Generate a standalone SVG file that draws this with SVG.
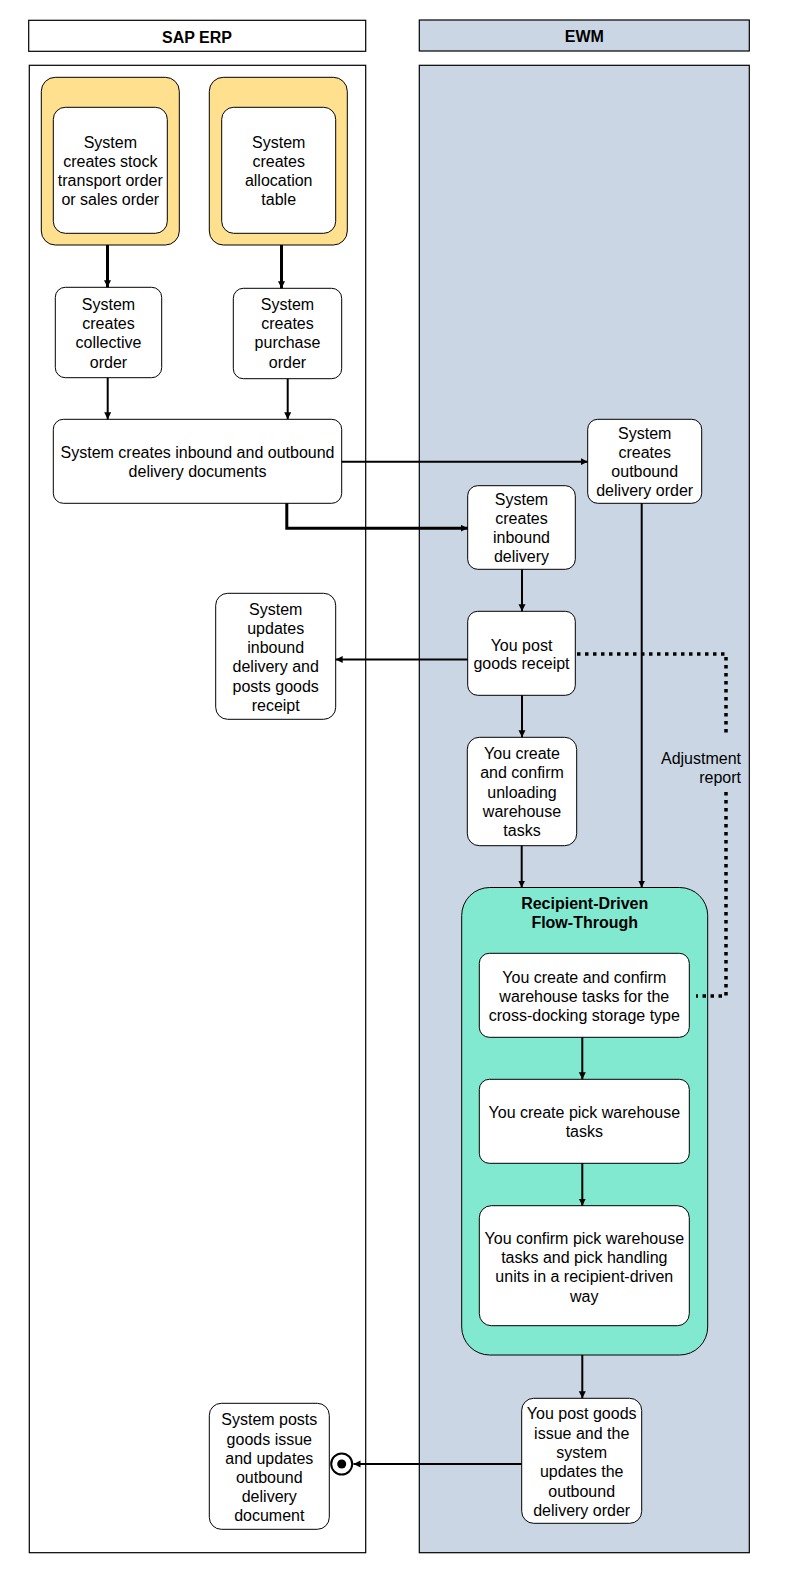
<svg xmlns="http://www.w3.org/2000/svg" width="792" height="1584" viewBox="0 0 792 1584">
<style>
text{font-family:"Liberation Sans",Arial,sans-serif;font-size:16px;fill:#000;text-anchor:middle}
.b{font-weight:bold}
.lane{stroke:#000;stroke-width:1.2}
.box{fill:#fff;stroke:#000;stroke-width:1}
.yel{fill:#FFE08F;stroke:#000;stroke-width:1}
.c{fill:none;stroke:#000;stroke-width:2}
.c3{fill:none;stroke:#000;stroke-width:3}
.dot{fill:none;stroke:#000;stroke-width:3.5;stroke-dasharray:3.5 4.5}
</style>
<defs>
<marker id="ah" markerUnits="userSpaceOnUse" markerWidth="8" markerHeight="8" refX="7" refY="3.5" orient="auto">
<path d="M0,0 L7,3.5 L0,7 z" fill="#000"/>
</marker>
</defs>
<g id="lane-sap">
<rect class="lane" x="28.7" y="20.3" width="337" height="31" fill="#fff"/>
<text class="b" x="197" y="42.5">SAP ERP</text>
<rect class="lane" x="29.3" y="65.3" width="336.4" height="1487.4" fill="#fff"/>
</g>
<g id="lane-ewm">
<rect class="lane" x="419.3" y="20" width="330" height="31" fill="#CAD6E4"/>
<text class="b" x="584.3" y="41.8">EWM</text>
<rect class="lane" x="419.3" y="65.3" width="330" height="1487.4" fill="#CAD6E4"/>
</g>
<g id="n-sto">
<rect class="yel" x="41.3" y="77.3" width="138" height="167.7" rx="14"/>
<rect class="box" x="53.3" y="107.3" width="114" height="126" rx="12"/>
<text x="110.3" y="148">System</text>
<text x="110.3" y="167">creates stock</text>
<text x="110.3" y="186">transport order</text>
<text x="110.3" y="205">or sales order</text>
</g>
<g id="n-alloc">
<rect class="yel" x="209.3" y="77.3" width="138" height="167.7" rx="14"/>
<rect class="box" x="221.7" y="107.3" width="114" height="126" rx="12"/>
<text x="278.7" y="148">System</text>
<text x="278.7" y="167">creates</text>
<text x="278.7" y="186">allocation</text>
<text x="278.7" y="205">table</text>
</g>
<g id="n-collective">
<rect class="box" x="55.3" y="287.3" width="106.4" height="90.4" rx="10"/>
<text x="108.5" y="310">System</text>
<text x="108.5" y="329">creates</text>
<text x="108.5" y="348">collective</text>
<text x="108.5" y="367.5">order</text>
</g>
<g id="n-purchase">
<rect class="box" x="233.3" y="288.3" width="108.4" height="90.4" rx="10"/>
<text x="287.5" y="310">System</text>
<text x="287.5" y="329">creates</text>
<text x="287.5" y="348">purchase</text>
<text x="287.5" y="367.5">order</text>
</g>
<g id="n-docs">
<rect class="box" x="53.3" y="419.3" width="288.4" height="84" rx="10"/>
<text x="197.5" y="458">System creates inbound and outbound</text>
<text x="197.5" y="477">delivery documents</text>
</g>
<g id="n-outbound">
<rect class="box" x="587.7" y="419.3" width="114" height="84" rx="10"/>
<text x="644.7" y="439">System</text>
<text x="644.7" y="458">creates</text>
<text x="644.7" y="477">outbound</text>
<text x="644.7" y="496">delivery order</text>
</g>
<g id="n-inbound">
<rect class="box" x="467.7" y="485.7" width="107.6" height="83.6" rx="10"/>
<text x="521.5" y="505">System</text>
<text x="521.5" y="524">creates</text>
<text x="521.5" y="543">inbound</text>
<text x="521.5" y="562">delivery</text>
</g>
<g id="n-gr">
<rect class="box" x="467.7" y="611.3" width="107.6" height="84" rx="10"/>
<text x="521.5" y="650.5">You post</text>
<text x="521.5" y="669">goods receipt</text>
</g>
<g id="n-updates">
<rect class="box" x="215.7" y="593.3" width="120" height="126" rx="12"/>
<text x="275.7" y="615">System</text>
<text x="275.7" y="634">updates</text>
<text x="275.7" y="653">inbound</text>
<text x="275.7" y="672">delivery and</text>
<text x="275.7" y="692">posts goods</text>
<text x="275.7" y="711">receipt</text>
</g>
<g id="n-unload">
<rect class="box" x="467.3" y="737.3" width="109.4" height="108.4" rx="12"/>
<text x="522" y="759">You create</text>
<text x="522" y="778">and confirm</text>
<text x="522" y="797.5">unloading</text>
<text x="522" y="817">warehouse</text>
<text x="522" y="835.5">tasks</text>
</g>
<g id="n-adjust">
<text x="741" y="763.5" style="text-anchor:end">Adjustment</text>
<text x="741" y="783" style="text-anchor:end">report</text>
</g>
<g id="n-rdft">
<rect x="461.7" y="887.5" width="246" height="467.5" rx="28" fill="#80E9D0" stroke="#000" stroke-width="1"/>
<text class="b" x="584.7" y="908.5">Recipient-Driven</text>
<text class="b" x="584.7" y="927.5">Flow-Through</text>
</g>
<g id="n-crossdock">
<rect class="box" x="479.3" y="953.3" width="210" height="84" rx="10"/>
<text x="584.3" y="982.5">You create and confirm</text>
<text x="584.3" y="1002">warehouse tasks for the</text>
<text x="584.3" y="1021">cross-docking storage type</text>
</g>
<g id="n-pick">
<rect class="box" x="479.3" y="1079.3" width="210" height="84" rx="10"/>
<text x="584.3" y="1118">You create pick warehouse</text>
<text x="584.3" y="1137">tasks</text>
</g>
<g id="n-confirm">
<rect class="box" x="479.3" y="1205.7" width="210" height="120" rx="12"/>
<text x="584.3" y="1243.5">You confirm pick warehouse</text>
<text x="584.3" y="1262.5">tasks and pick handling</text>
<text x="584.3" y="1281.5">units in a recipient-driven</text>
<text x="584.3" y="1301.5">way</text>
</g>
<g id="n-gi">
<rect class="box" x="521.7" y="1398.3" width="120" height="125" rx="12"/>
<text x="581.7" y="1419">You post goods</text>
<text x="581.7" y="1438.5">issue and the</text>
<text x="581.7" y="1458">system</text>
<text x="581.7" y="1477">updates the</text>
<text x="581.7" y="1496.5">outbound</text>
<text x="581.7" y="1515.5">delivery order</text>
</g>
<g id="n-postgi">
<rect class="box" x="209.3" y="1403.3" width="120" height="126" rx="12"/>
<text x="269.3" y="1425">System posts</text>
<text x="269.3" y="1444.5">goods issue</text>
<text x="269.3" y="1464">and updates</text>
<text x="269.3" y="1482.5">outbound</text>
<text x="269.3" y="1501.5">delivery</text>
<text x="269.3" y="1520.5">document</text>
</g>
<g id="n-end">
<circle cx="341.7" cy="1464" r="10.5" fill="#fff" stroke="#000" stroke-width="2"/>
<circle cx="341.7" cy="1464" r="4.5" fill="#000"/>
</g>
<g id="connectors">
<path class="c3" d="M107.5 245 V287.3" marker-end="url(#ah)"/>
<path class="c3" d="M281.5 245 V288.3" marker-end="url(#ah)"/>
<path class="c" d="M107.7 377.7 V419.3" marker-end="url(#ah)"/>
<path class="c" d="M287.7 378.7 V419.3" marker-end="url(#ah)"/>
<path class="c" d="M341.7 461.7 H587.7" marker-end="url(#ah)"/>
<path class="c3" d="M286.8 503.3 V528.2 H467.7" marker-end="url(#ah)"/>
<path class="c" d="M522 569.3 V611.3" marker-end="url(#ah)"/>
<path class="c" d="M467.7 659.5 H335.7" marker-end="url(#ah)"/>
<path class="c" d="M522 695.3 V737.3" marker-end="url(#ah)"/>
<path class="c" d="M521.7 845.7 V887.5" marker-end="url(#ah)"/>
<path class="c" d="M641.7 503.3 V887.5" marker-end="url(#ah)"/>
<path class="c" d="M582.3 1037.3 V1079.3" marker-end="url(#ah)"/>
<path class="c" d="M582.3 1163.3 V1205.7" marker-end="url(#ah)"/>
<path class="c" d="M582.3 1355 V1398.3" marker-end="url(#ah)"/>
<path class="c" d="M521.7 1464 H353.5" marker-end="url(#ah)"/>
<path class="dot" d="M577 654 H726 V737"/>
<path class="dot" d="M726 792 V996 H696"/>
</g>
</svg>
